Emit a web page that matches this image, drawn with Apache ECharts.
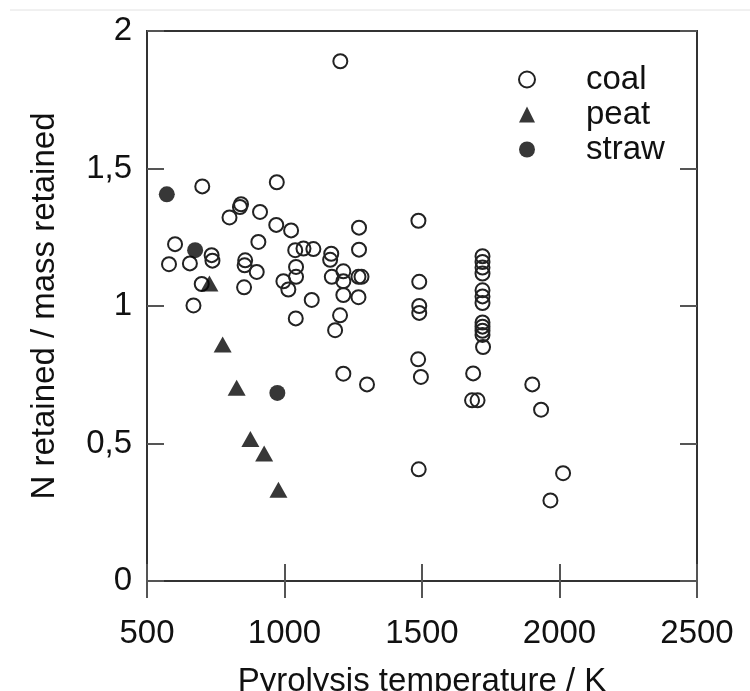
<!DOCTYPE html>
<html>
<head>
<meta charset="utf-8">
<script src="https://cdn.jsdelivr.net/npm/echarts@6/dist/echarts.min.js"></script>
<style>
html,body{margin:0;padding:0;background:#fff;}
#chart{width:750px;height:691px;}
</style>
</head>
<body>
<div id="chart"></div>
<script>
// Data
var xTicks = ['500', '1000', '1500', '2000', '2500'];
var yTicks = ['0', '0,5', '1', '1,5', '2'];
var seriesNames = ['coal', 'peat', 'straw'];

var coalTemp = [1203, 972, 701, 1487, 842, 838, 800, 911, 970, 1024, 1271,
  602, 905, 1039, 1069, 1105, 1271, 1170, 1166, 580, 656, 735, 738,
  857, 855, 1042, 899, 1214, 1042, 1172, 1214, 1269, 1280, 996, 1014, 1490,
  699, 853, 1099, 1269, 1214, 669, 1490, 1490, 1041, 1202, 1184,
  1720, 1720, 1720, 1720, 1720, 1720, 1720, 1720, 1720, 1720, 1720, 1722,
  1486, 1214, 1686, 1496, 1300, 1901, 1682, 1702, 1933, 1488, 2013, 1967];
var coalRatio = [1.89, 1.45, 1.435, 1.31, 1.37, 1.36, 1.322, 1.342, 1.295, 1.275, 1.285,
  1.225, 1.233, 1.203, 1.209, 1.207, 1.205, 1.19, 1.168, 1.152, 1.155, 1.185, 1.165,
  1.166, 1.148, 1.142, 1.124, 1.126, 1.106, 1.106, 1.09, 1.106, 1.106, 1.09, 1.06, 1.088,
  1.08, 1.068, 1.022, 1.032, 1.04, 1.002, 1.0, 0.975, 0.955, 0.966, 0.912,
  1.181, 1.16, 1.14, 1.118, 1.057, 1.035, 1.011, 0.94, 0.925, 0.91, 0.895, 0.851,
  0.806, 0.754, 0.755, 0.742, 0.715, 0.715, 0.657, 0.657, 0.623, 0.406, 0.392, 0.293];

var peatTemp = [727, 775, 826, 876, 926, 978];
var peatRatio = [1.082, 0.86, 0.703, 0.516, 0.464, 0.332];

var strawTemp = [572, 675, 974];
var strawRatio = [1.406, 1.203, 0.684];

function pairs(xs, ys) {
  var out = [];
  for (var i = 0; i < xs.length; i++) out.push([xs[i], ys[i]]);
  return out;
}

var FONT = '"Liberation Sans", Arial, Helvetica, sans-serif';
var FS = 33;
var TXT = '#111';
var chart = echarts.init(document.getElementById('chart'), null, {renderer: 'canvas'});

var tickStyle = {show: true, inside: true, length: 17, lineStyle: {color: '#555', width: 2}};

chart.setOption({
  backgroundColor: '#fff',
  animation: false,
  textStyle: {fontFamily: FONT},
  graphic: [{
    type: 'line', shape: {x1: 10, y1: 10, x2: 750, y2: 10},
    style: {stroke: '#e2e2e2', lineWidth: 1}
  }],
  grid: {left: 147, right: 53, top: 31, bottom: 110, show: true,
    outerBoundsMode: 'none', containLabel: false,
    borderColor: '#333', borderWidth: 2, backgroundColor: 'transparent'},
  legend: {
    orient: 'vertical', left: 513, top: 57,
    itemWidth: 16, itemHeight: 16, itemGap: 0,
    data: seriesNames,
    textStyle: {fontFamily: FONT, fontSize: FS, color: TXT, lineHeight: 35, padding: [0, 0, 0, 46]}
  },
  xAxis: [{
    type: 'value', min: 500, max: 2500, interval: 500,
    name: 'Pyrolysis temperature / K', nameLocation: 'middle', nameGap: 84,
    nameTextStyle: {fontFamily: FONT, fontSize: FS, color: TXT},
    axisLine: {show: true, lineStyle: {color: '#333', width: 2}},
    axisTick: tickStyle,
    axisLabel: {fontFamily: FONT, fontSize: FS, color: TXT, margin: 36,
      formatter: function (v) { return xTicks[Math.round((v - 500) / 500)]; }},
    splitLine: {show: false}
  }, {
    type: 'value', position: 'top', min: 500, max: 2500, interval: 500,
    axisLine: {show: true, lineStyle: {color: '#333', width: 2}},
    axisTick: tickStyle, axisLabel: {show: false}, splitLine: {show: false}
  }],
  yAxis: [{
    type: 'value', min: 0, max: 2, interval: 0.5,
    name: 'N retained / mass retained', nameLocation: 'middle', nameGap: 86, nameRotate: 90,
    nameTextStyle: {fontFamily: FONT, fontSize: FS, color: TXT},
    axisLine: {show: true, lineStyle: {color: '#333', width: 2}},
    axisTick: tickStyle,
    axisLabel: {fontFamily: FONT, fontSize: FS, color: TXT, margin: 15,
      formatter: function (v) { return yTicks[Math.round(v / 0.5)]; }},
    splitLine: {show: false}
  }, {
    type: 'value', position: 'right', min: 0, max: 2, interval: 0.5,
    axisLine: {show: true, lineStyle: {color: '#333', width: 2}},
    axisTick: tickStyle, axisLabel: {show: false}, splitLine: {show: false}
  }],
  series: [{
    name: 'coal', type: 'scatter', symbol: 'circle', symbolSize: 14,
    itemStyle: {color: 'rgba(255,255,255,0)', borderColor: '#222', borderWidth: 2, opacity: 1},
    data: pairs(coalTemp, coalRatio)
  }, {
    name: 'peat', type: 'scatter', symbol: 'triangle', symbolSize: [18, 16],
    itemStyle: {color: '#050505'},
    data: pairs(peatTemp, peatRatio)
  }, {
    name: 'straw', type: 'scatter', symbol: 'circle', symbolSize: 16,
    itemStyle: {color: '#050505'},
    data: pairs(strawTemp, strawRatio)
  }]
});
</script>
</body>
</html>
